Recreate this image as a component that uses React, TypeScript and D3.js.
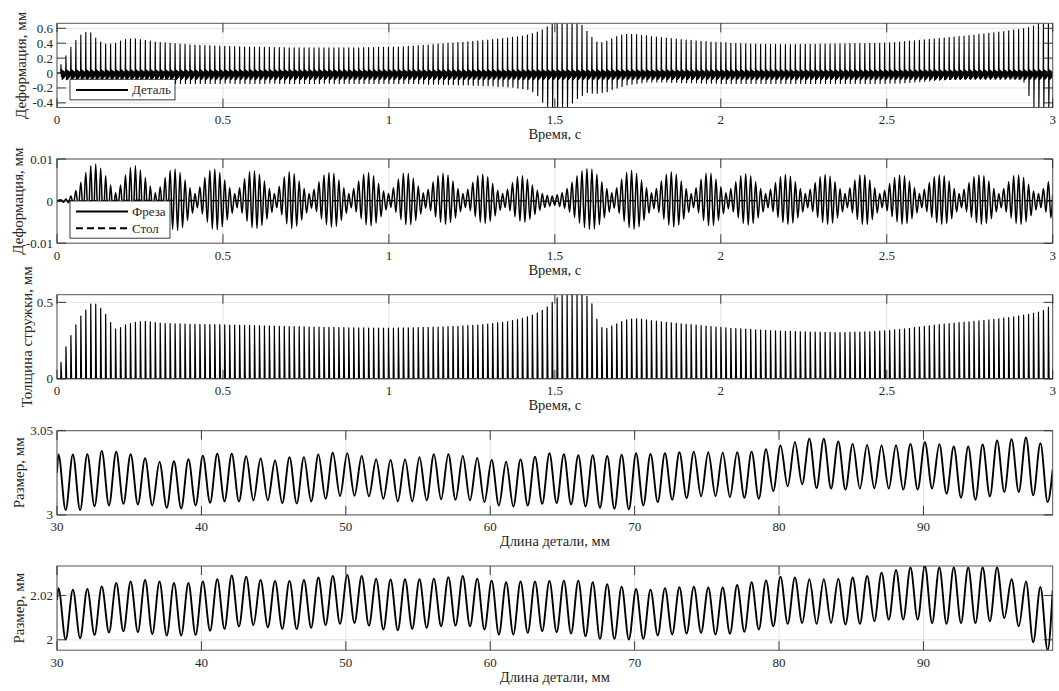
import React from 'react';
import * as d3 from 'd3';

// ---------- data ----------

// Tooth-pass sampling of the time-domain signals
const CYCLE_START = 0.012; // s, first tooth impact
const CYCLE_PERIOD = 0.01495; // s, tooth passing period

// Panel 1: workpiece deformation, per-cycle spike maximum (mm)
const partPeak = [
  0.115, 0.23, 0.35, 0.44, 0.51, 0.545, 0.54, 0.47, 0.415, 0.39,
  0.39, 0.40, 0.43, 0.45, 0.46, 0.46, 0.45, 0.44, 0.43, 0.415,
  0.41, 0.405, 0.40, 0.395, 0.39, 0.385, 0.38, 0.375, 0.372, 0.37,
  0.367, 0.364, 0.361, 0.358, 0.356, 0.354, 0.352, 0.35, 0.348, 0.347,
  0.346, 0.345, 0.344, 0.343, 0.342, 0.341, 0.34, 0.34, 0.339, 0.339,
  0.338, 0.338, 0.338, 0.337, 0.337, 0.337, 0.337, 0.338, 0.338, 0.339,
  0.34, 0.341, 0.342, 0.343, 0.344, 0.345, 0.346, 0.348, 0.35, 0.353,
  0.357, 0.362, 0.367, 0.372, 0.377, 0.383, 0.388, 0.393, 0.398, 0.403,
  0.408, 0.413, 0.418, 0.424, 0.43, 0.436, 0.442, 0.448, 0.455, 0.462,
  0.47, 0.478, 0.487, 0.497, 0.51, 0.53, 0.55, 0.58, 0.62, 0.66,
  0.69, 0.70, 0.70, 0.70, 0.70, 0.64, 0.56, 0.48, 0.42, 0.41,
  0.43, 0.46, 0.49, 0.51, 0.52, 0.52, 0.515, 0.505, 0.50, 0.49,
  0.483, 0.476, 0.47, 0.463, 0.456, 0.45, 0.444, 0.438, 0.432, 0.427,
  0.422, 0.417, 0.412, 0.408, 0.404, 0.40, 0.397, 0.394, 0.392, 0.39,
  0.388, 0.387, 0.386, 0.385, 0.384, 0.383, 0.383, 0.383, 0.383, 0.384,
  0.385, 0.386, 0.387, 0.388, 0.389, 0.39, 0.391, 0.392, 0.393, 0.394,
  0.395, 0.396, 0.397, 0.398, 0.399, 0.40, 0.402, 0.405, 0.41, 0.416,
  0.422, 0.428, 0.434, 0.44, 0.446, 0.452, 0.458, 0.464, 0.47, 0.476,
  0.483, 0.49, 0.497, 0.504, 0.511, 0.518, 0.525, 0.533, 0.541, 0.549,
  0.557, 0.566, 0.575, 0.585, 0.596, 0.61, 0.63, 0.68, 0.72, 0.72,
];

// Panel 1: per-cycle rebound minimum (mm)
const partDip = [
  -0.05, -0.09, -0.12, -0.14, -0.16, -0.17, -0.17, -0.16, -0.15, -0.14,
  -0.14, -0.14, -0.15, -0.15, -0.15, -0.15, -0.15, -0.14, -0.14, -0.14,
  -0.14, -0.14, -0.14, -0.14, -0.14, -0.14, -0.14, -0.14, -0.14, -0.14,
  -0.14, -0.14, -0.14, -0.135, -0.135, -0.14, -0.14, -0.14, -0.14, -0.14,
  -0.14, -0.14, -0.135, -0.135, -0.14, -0.14, -0.14, -0.14, -0.14, -0.14,
  -0.14, -0.14, -0.14, -0.135, -0.135, -0.14, -0.14, -0.14, -0.14, -0.14,
  -0.14, -0.14, -0.14, -0.14, -0.14, -0.14, -0.14, -0.14, -0.14, -0.14,
  -0.14, -0.14, -0.145, -0.145, -0.15, -0.15, -0.15, -0.15, -0.155, -0.155,
  -0.16, -0.16, -0.16, -0.165, -0.165, -0.17, -0.17, -0.175, -0.18, -0.18,
  -0.185, -0.19, -0.2, -0.21, -0.22, -0.25, -0.3, -0.39, -0.45, -0.5,
  -0.52, -0.5, -0.46, -0.4, -0.34, -0.3, -0.26, -0.27, -0.27, -0.26,
  -0.25, -0.22, -0.2, -0.18, -0.16, -0.15, -0.14, -0.13, -0.12, -0.12,
  -0.12, -0.12, -0.12, -0.125, -0.125, -0.13, -0.13, -0.13, -0.13, -0.135,
  -0.135, -0.135, -0.135, -0.14, -0.14, -0.14, -0.14, -0.14, -0.14, -0.14,
  -0.14, -0.14, -0.14, -0.14, -0.14, -0.14, -0.14, -0.14, -0.14, -0.14,
  -0.14, -0.14, -0.14, -0.14, -0.14, -0.14, -0.14, -0.14, -0.14, -0.14,
  -0.14, -0.14, -0.14, -0.14, -0.14, -0.14, -0.14, -0.135, -0.135, -0.135,
  -0.13, -0.125, -0.12, -0.115, -0.11, -0.105, -0.1, -0.095, -0.09, -0.085,
  -0.08, -0.078, -0.075, -0.072, -0.07, -0.068, -0.066, -0.064, -0.062, -0.06,
  -0.06, -0.06, -0.07, -0.08, -0.12, -0.3, -0.46, -0.55, -0.55, -0.55,
];

// Panel 1: free ringing after each impact (time after impact, s / level, mm)
const ringOffsets = [0.0025, 0.004, 0.0055, 0.007, 0.0085, 0.01, 0.0115, 0.013];
const ringLevels = [0.045, -0.085, 0.035, -0.075, 0.025, -0.06, 0.015, -0.04];

// Panel 2: cutter deformation, per-cycle crest and trough magnitude (µm)
const cutterCrest = [
  0.3, 0.5, 1.2, 2.5, 4.5, 6.8, 8.4, 8.8, 7.8, 6.0,
  3.8, 2.0, 3.8, 6.2, 8.0, 8.4, 7.4, 5.6, 3.6, 2.0,
  3.4, 5.6, 7.3, 7.6, 6.8, 5.0, 3.2, 1.8, 3.4, 5.6,
  7.3, 7.6, 6.8, 5.0, 3.2, 1.8, 3.2, 5.3, 7.0, 7.2,
  6.4, 4.8, 3.0, 1.8, 3.5, 5.8, 7.0, 6.5, 4.8, 3.0,
  1.8, 2.8, 4.6, 6.2, 6.8, 6.6, 5.0, 3.2, 1.8, 3.0,
  4.8, 6.4, 6.8, 6.0, 4.2, 2.4, 1.8, 3.2, 5.2, 6.6,
  6.6, 5.4, 3.6, 2.0, 2.8, 4.6, 6.0, 6.6, 6.2, 4.8,
  3.0, 1.8, 2.8, 4.5, 6.0, 6.4, 5.8, 4.2, 2.6, 1.8,
  2.8, 4.4, 5.8, 6.0, 5.2, 3.8, 2.6, 1.8, 1.4, 1.2,
  1.5, 2.0, 3.0, 4.5, 6.0, 7.2, 7.7, 7.6, 6.4, 4.6,
  3.0, 2.0, 3.2, 5.2, 6.8, 7.3, 6.6, 5.0, 3.2, 2.0,
  3.0, 4.8, 6.4, 7.0, 6.4, 4.8, 3.0, 1.8, 3.2, 5.2,
  6.6, 6.6, 5.2, 3.4, 2.0, 3.0, 4.6, 6.0, 6.5, 6.0,
  4.6, 3.0, 1.8, 2.8, 4.4, 5.8, 6.3, 5.9, 4.6, 3.0,
  1.8, 2.8, 4.4, 5.8, 6.3, 5.9, 4.6, 3.0, 1.8, 3.2,
  5.0, 6.2, 6.2, 5.0, 3.2, 1.8, 2.6, 4.2, 5.6, 6.2,
  6.0, 4.8, 3.2, 1.8, 2.8, 4.4, 5.8, 6.2, 6.0, 4.8,
  3.0, 1.8, 2.8, 4.4, 5.8, 6.2, 6.0, 4.8, 3.0, 1.8,
  3.0, 4.6, 6.0, 6.2, 5.6, 4.0, 2.4, 1.8, 3.0, 4.6,
];
const cutterTrough = [
  0.3, 0.4, 0.9, 1.9, 3.5, 5.2, 6.5, 6.8, 6.0, 4.6,
  2.9, 1.6, 3.1, 5.0, 6.5, 6.8, 6.0, 4.5, 2.9, 1.8,
  3.1, 5.2, 6.7, 7.0, 6.3, 4.6, 2.9, 1.6, 3.1, 5.0,
  6.6, 6.8, 6.1, 4.5, 2.9, 1.6, 2.9, 4.8, 6.3, 6.5,
  5.8, 4.3, 2.7, 1.6, 3.3, 5.4, 6.5, 6.0, 4.5, 2.8,
  1.7, 2.5, 4.2, 5.6, 6.2, 6.0, 4.6, 2.9, 1.6, 2.6,
  4.2, 5.6, 5.9, 5.2, 3.7, 2.1, 1.5, 2.7, 4.4, 5.6,
  5.6, 4.6, 3.1, 1.7, 2.3, 3.8, 5.0, 5.5, 5.1, 4.0,
  2.5, 1.5, 2.3, 3.7, 5.0, 5.3, 4.8, 3.5, 2.2, 1.5,
  2.3, 3.7, 4.8, 5.0, 4.3, 3.2, 2.2, 1.5, 1.2, 1.0,
  1.3, 1.7, 2.6, 3.9, 5.2, 6.3, 6.7, 6.6, 5.6, 4.0,
  2.6, 1.7, 2.9, 4.8, 6.3, 6.7, 6.1, 4.6, 2.9, 1.8,
  2.7, 4.3, 5.7, 6.2, 5.7, 4.3, 2.7, 1.6, 2.8, 4.6,
  5.8, 5.8, 4.6, 3.0, 1.8, 2.6, 4.0, 5.3, 5.7, 5.3,
  4.0, 2.6, 1.6, 2.5, 3.9, 5.1, 5.5, 5.2, 4.0, 2.6,
  1.6, 2.5, 3.9, 5.1, 5.5, 5.2, 4.0, 2.6, 1.6, 2.8,
  4.4, 5.5, 5.5, 4.4, 2.8, 1.6, 2.3, 3.7, 4.9, 5.5,
  5.3, 4.2, 2.8, 1.6, 2.5, 3.9, 5.1, 5.5, 5.3, 4.2,
  2.6, 1.6, 2.5, 3.9, 5.1, 5.5, 5.3, 4.2, 2.6, 1.6,
  2.6, 4.0, 5.3, 5.5, 4.9, 3.5, 2.1, 1.6, 2.6, 4.0,
];

// Panel 2: table deformation (mm)
const tableTime = [0, 0.25, 0.5, 0.75, 1, 1.25, 1.5, 1.75, 2, 2.25, 2.5, 2.75, 3];
const tableValue = [0, 0.0002, 0.0001, 0.0001, 0.0001, 0.0001, 0, 0.0001, 0.0001, 0.0001, 0.0001, 0.0001, 0.0001];

// Panel 3: uncut chip thickness per tooth pass (mm)
const chipThickness = [
  0.108, 0.21, 0.283, 0.353, 0.411, 0.45, 0.489, 0.489, 0.461, 0.422,
  0.368, 0.325, 0.335, 0.353, 0.362, 0.37, 0.375, 0.376, 0.372, 0.368,
  0.364, 0.362, 0.361, 0.36, 0.359, 0.358, 0.357, 0.356, 0.356, 0.355,
  0.355, 0.354, 0.354, 0.353, 0.352, 0.351, 0.35, 0.35, 0.349, 0.348,
  0.347, 0.346, 0.345, 0.345, 0.344, 0.343, 0.342, 0.341, 0.341, 0.34,
  0.339, 0.338, 0.338, 0.337, 0.336, 0.336, 0.335, 0.335, 0.334, 0.334,
  0.333, 0.333, 0.332, 0.332, 0.332, 0.332, 0.332, 0.332, 0.333, 0.333,
  0.334, 0.334, 0.335, 0.336, 0.337, 0.338, 0.339, 0.34, 0.341, 0.342,
  0.344, 0.346, 0.348, 0.35, 0.352, 0.355, 0.358, 0.362, 0.366, 0.37,
  0.375, 0.381, 0.388, 0.396, 0.405, 0.416, 0.43, 0.448, 0.47, 0.5,
  0.53, 0.545, 0.55, 0.55, 0.55, 0.548, 0.54, 0.49, 0.39, 0.335,
  0.33, 0.345, 0.36, 0.375, 0.385, 0.39, 0.392, 0.39, 0.385, 0.38,
  0.377, 0.373, 0.369, 0.366, 0.363, 0.36, 0.357, 0.354, 0.351, 0.348,
  0.345, 0.342, 0.339, 0.336, 0.333, 0.331, 0.329, 0.327, 0.325, 0.323,
  0.321, 0.319, 0.317, 0.315, 0.314, 0.312, 0.311, 0.31, 0.309, 0.308,
  0.307, 0.306, 0.305, 0.305, 0.304, 0.304, 0.303, 0.303, 0.303, 0.304,
  0.305, 0.306, 0.307, 0.308, 0.31, 0.312, 0.314, 0.317, 0.32, 0.323,
  0.327, 0.331, 0.335, 0.339, 0.343, 0.347, 0.351, 0.355, 0.358, 0.361,
  0.364, 0.367, 0.37, 0.373, 0.376, 0.379, 0.382, 0.385, 0.389, 0.393,
  0.397, 0.401, 0.406, 0.411, 0.416, 0.422, 0.428, 0.436, 0.448, 0.468,
];

// Panels 4-5: part size along its length, one crest / trough per mm
const LENGTH_FIRST_CREST = 30.1; // mm
const LENGTH_STEP = 1; // mm between crests
const LENGTH_END = 98.95; // mm

const size1Start = 3.025;
const size1End = 3.027;
const size1Crest = [
  3.0359, 3.0359, 3.036, 3.038, 3.0375, 3.036, 3.0337, 3.0315, 3.0319, 3.0331,
  3.0351, 3.0363, 3.0363, 3.0349, 3.0335, 3.0323, 3.0343, 3.0343, 3.0359, 3.0369,
  3.0367, 3.035, 3.033, 3.0326, 3.033, 3.0342, 3.036, 3.036, 3.035, 3.0338,
  3.0326, 3.0316, 3.033, 3.0346, 3.0366, 3.036, 3.0354, 3.0354, 3.035, 3.0358,
  3.0366, 3.0362, 3.0366, 3.0372, 3.0376, 3.0372, 3.037, 3.0372, 3.0376, 3.039,
  3.0412, 3.0432, 3.0452, 3.0452, 3.0436, 3.0422, 3.0416, 3.0412, 3.0414, 3.0422,
  3.0432, 3.042, 3.0406, 3.0406, 3.0418, 3.0442, 3.045, 3.046, 3.0426,
];
const size1Trough = [
  3.0028, 3.0028, 3.0052, 3.0056, 3.0066, 3.0062, 3.0056, 3.0042, 3.0038, 3.0056,
  3.0072, 3.008, 3.008, 3.0086, 3.0086, 3.007, 3.0068, 3.008, 3.0096, 3.0112,
  3.0114, 3.011, 3.0096, 3.008, 3.008, 3.0086, 3.0092, 3.009, 3.0086, 3.0076,
  3.0056, 3.005, 3.0056, 3.0066, 3.007, 3.0062, 3.005, 3.0042, 3.0036, 3.0032,
  3.0056, 3.0076, 3.009, 3.01, 3.011, 3.0112, 3.0106, 3.0102, 3.0096, 3.0142,
  3.017, 3.0182, 3.016, 3.0156, 3.015, 3.0156, 3.0158, 3.0156, 3.015, 3.015,
  3.0156, 3.0126, 3.0102, 3.009, 3.011, 3.0136, 3.0136, 3.0116, 3.0076,
];

const size2Start = 2.018;
const size2End = 2.0224;
const size2Crest = [
  2.0233, 2.0226, 2.0229, 2.0241, 2.0256, 2.0263, 2.027, 2.0263, 2.0256, 2.0256,
  2.0263, 2.0273, 2.029, 2.0285, 2.027, 2.0266, 2.0266, 2.027, 2.0281, 2.0288,
  2.0293, 2.0288, 2.0276, 2.0272, 2.0273, 2.0273, 2.0276, 2.0283, 2.0288, 2.0276,
  2.0267, 2.026, 2.0263, 2.0263, 2.0266, 2.0267, 2.0267, 2.026, 2.0251, 2.024,
  2.0229, 2.0226, 2.0233, 2.0237, 2.024, 2.0236, 2.0236, 2.0247, 2.026, 2.0268,
  2.0285, 2.0281, 2.0273, 2.0273, 2.0275, 2.0281, 2.0288, 2.0303, 2.0315, 2.0326,
  2.0333, 2.0326, 2.0326, 2.0326, 2.0326, 2.0326, 2.0273, 2.0263, 2.0238,
];
const size2Trough = [
  2.0001, 2.0007, 2.0022, 2.0033, 2.0038, 2.0035, 2.0026, 2.0019, 2.0019, 2.0022,
  2.004, 2.0049, 2.006, 2.0066, 2.0056, 2.0049, 2.0048, 2.0054, 2.0066, 2.0072,
  2.0076, 2.0064, 2.0046, 2.0043, 2.0049, 2.0054, 2.0061, 2.0064, 2.0061, 2.0046,
  2.0024, 2.0024, 2.0031, 2.0039, 2.0034, 2.0028, 2.0016, 2.0004, 2.0004, 2.0001,
  2.0004, 2.0019, 2.0024, 2.0028, 2.0031, 2.0024, 2.0027, 2.0036, 2.0046, 2.0061,
  2.0072, 2.0076, 2.0072, 2.0076, 2.0069, 2.0072, 2.0084, 2.0091, 2.0091, 2.0091,
  2.0076, 2.0072, 2.0076, 2.0076, 2.0084, 2.0098, 2.0061, 1.9989, 1.9953,
];

// Axis ticks
const timeTicks = [0, 0.5, 1, 1.5, 2, 2.5, 3];
const timeTickLabels = ['0', '0.5', '1', '1.5', '2', '2.5', '3'];
const lengthTicks = [30, 40, 50, 60, 70, 80, 90];
const lengthTickLabels = ['30', '40', '50', '60', '70', '80', '90'];
const partTicks = [-0.4, -0.2, 0, 0.2, 0.4, 0.6];
const partTickLabels = ['-0.4', '-0.2', '0', '0.2', '0.4', '0.6'];
const cutterTicks = [-0.01, 0, 0.01];
const cutterTickLabels = ['-0.01', '0', '0.01'];
const chipTicks = [0, 0.5];
const chipTickLabels = ['0', '0.5'];
const size1Ticks = [3, 3.05];
const size1TickLabels = ['3', '3.05'];
const size2Ticks = [2, 2.02];
const size2TickLabels = ['2', '2.02'];

// ---------- layout ----------
const W = 1059;
const H = 691;
const PLOT_L = 57;
const PLOT_R = 1052.7;
const PLOT_H = 84.2;
const FONT = "'Liberation Serif', 'Times New Roman', serif";
const INK = '#262626';
const TICK_LEN = 9;

type Pt = [number, number];

const cycleTime = (k: number) => CYCLE_START + k * CYCLE_PERIOD;

function partSeries(): Pt[] {
  const pts: Pt[] = [[0, 0]];
  partPeak.forEach((p, k) => {
    const t = cycleTime(k);
    pts.push([t - 0.001, 0], [t, p], [t + 0.0012, partDip[k]]);
    ringOffsets.forEach((o, i) => pts.push([t + o, ringLevels[i]]));
  });
  pts.push([3, 0]);
  return pts;
}

function cutterSeries(): Pt[] {
  const pts: Pt[] = [[0, 0], [0.005, 0.0002]];
  cutterCrest.forEach((c, k) => {
    const t = cycleTime(k);
    pts.push([t, c / 1000], [t + CYCLE_PERIOD / 2, -cutterTrough[k] / 1000]);
  });
  pts.push([3, 0.0015]);
  return pts;
}

function chipSeries(): Pt[] {
  const pts: Pt[] = [[0, 0]];
  chipThickness.forEach((h, k) => {
    const t = cycleTime(k);
    pts.push([t - 0.0008, 0], [t, h], [t + 0.0022, 0]);
  });
  pts.push([3, 0]);
  return pts;
}

function sizeSeries(start: number, crest: number[], trough: number[], end: number): Pt[] {
  const pts: Pt[] = [[30, start]];
  crest.forEach((c, k) => {
    const x = LENGTH_FIRST_CREST + k * LENGTH_STEP;
    pts.push([x, c], [x + LENGTH_STEP / 2, trough[k]]);
  });
  pts.push([LENGTH_END, end]);
  return pts;
}

interface Trace {
  points: Pt[];
  curve: d3.CurveFactory;
  width: number;
  dash?: string;
}

interface LegendItem {
  label: string;
  dash?: string;
}

interface PanelProps {
  id: string;
  top: number;
  xDomain: [number, number];
  yDomain: [number, number];
  xTicks: number[];
  xTickLabels: string[];
  yTicks: number[];
  yTickLabels: string[];
  xTitle: string;
  yTitle: string;
  yTitleX: number;
  traces: Trace[];
  legend?: { x: number; y: number; w: number; items: LegendItem[] };
}

function Panel(props: PanelProps) {
  const { id, top, xDomain, yDomain, xTicks, xTickLabels, yTicks, yTickLabels, xTitle, yTitle, yTitleX, traces, legend } = props;
  const bottom = top + PLOT_H;
  const x = d3.scaleLinear().domain(xDomain).range([PLOT_L, PLOT_R]);
  const y = d3.scaleLinear().domain(yDomain).range([bottom, top]);
  const clipId = `clip-${id}`;

  return (
    <g>
      <defs>
        <clipPath id={clipId}>
          <rect x={PLOT_L} y={top} width={PLOT_R - PLOT_L} height={PLOT_H} />
        </clipPath>
      </defs>
      <rect x={PLOT_L} y={top} width={PLOT_R - PLOT_L} height={PLOT_H} fill="#fff" />
      {/* grid */}
      {xTicks.map((t) => (
        <line key={`gx${t}`} x1={x(t)} x2={x(t)} y1={top} y2={bottom} stroke="#e2e2e2" strokeWidth={1} />
      ))}
      {yTicks.map((t) => (
        <line key={`gy${t}`} x1={PLOT_L} x2={PLOT_R} y1={y(t)} y2={y(t)} stroke="#e2e2e2" strokeWidth={1} />
      ))}
      {/* data */}
      <g clipPath={`url(#${clipId})`}>
        {traces.map((tr, i) => {
          const line = d3
            .line<Pt>()
            .x((d) => x(d[0]))
            .y((d) => y(d[1]))
            .curve(tr.curve);
          return (
            <path
              key={i}
              d={line(tr.points) || ''}
              fill="none"
              stroke="#000"
              strokeWidth={tr.width}
              strokeDasharray={tr.dash}
              strokeLinejoin="round"
            />
          );
        })}
      </g>
      {/* frame and inward ticks on all four sides */}
      <rect x={PLOT_L} y={top} width={PLOT_R - PLOT_L} height={PLOT_H} fill="none" stroke="#555" strokeWidth={1} />
      {xTicks.map((t) => (
        <g key={`tx${t}`} stroke={INK} strokeWidth={0.9}>
          <line x1={x(t)} x2={x(t)} y1={bottom} y2={bottom - TICK_LEN} />
          <line x1={x(t)} x2={x(t)} y1={top} y2={top + TICK_LEN} />
        </g>
      ))}
      {yTicks.map((t) => (
        <g key={`ty${t}`} stroke={INK} strokeWidth={0.9}>
          <line x1={PLOT_L} x2={PLOT_L + TICK_LEN} y1={y(t)} y2={y(t)} />
          <line x1={PLOT_R} x2={PLOT_R - TICK_LEN} y1={y(t)} y2={y(t)} />
        </g>
      ))}
      {/* tick labels */}
      {xTicks.map((t, i) => (
        <text key={`lx${t}`} x={x(t)} y={bottom + 16.5} textAnchor="middle" fontSize={13} fontFamily={FONT} fill={INK}>
          {xTickLabels[i]}
        </text>
      ))}
      {yTicks.map((t, i) => (
        <text key={`ly${t}`} x={PLOT_L - 4} y={y(t) + 4.5} textAnchor="end" fontSize={13} fontFamily={FONT} fill={INK}>
          {yTickLabels[i]}
        </text>
      ))}
      {/* axis titles */}
      <text x={(PLOT_L + PLOT_R) / 2} y={bottom + 31.5} textAnchor="middle" fontSize={14.5} fontFamily={FONT} fill={INK}>
        {xTitle}
      </text>
      <text
        transform={`translate(${yTitleX},${(top + bottom) / 2}) rotate(-90)`}
        textAnchor="middle"
        dominantBaseline="central"
        fontSize={15}
        fontFamily={FONT}
        fill={INK}
      >
        {yTitle}
      </text>
      {/* legend */}
      {legend && (
        <g>
          <rect
            x={legend.x}
            y={legend.y}
            width={legend.w}
            height={legend.items.length * 16.6 + 4}
            fill="#fff"
            stroke={INK}
            strokeWidth={0.9}
          />
          {legend.items.map((it, i) => {
            const cy = legend.y + 10.6 + i * 16.6;
            return (
              <g key={it.label}>
                <line
                  x1={legend.x + 6}
                  x2={legend.x + 58}
                  y1={cy}
                  y2={cy}
                  stroke="#000"
                  strokeWidth={2}
                  strokeDasharray={it.dash}
                />
                <text x={legend.x + 62} y={cy + 4.5} fontSize={13} fontFamily={FONT} fill={INK}>
                  {it.label}
                </text>
              </g>
            );
          })}
        </g>
      )}
    </g>
  );
}

export default function App() {
  const tops = [23.3, 159, 294.7, 430.7, 566];
  return (
    <svg
      width={W}
      height={H}
      viewBox={`0 0 ${W} ${H}`}
      style={{ position: 'absolute', left: 0, top: 0, background: '#fff' }}
    >
      <rect width={W} height={H} fill="#fff" />
      <Panel
        id="part"
        top={tops[0]}
        xDomain={[0, 3]}
        yDomain={[-0.462, 0.667]}
        xTicks={timeTicks}
        xTickLabels={timeTickLabels}
        yTicks={partTicks}
        yTickLabels={partTickLabels}
        xTitle="Время, с"
        yTitle="Деформация, мм"
        yTitleX={21}
        traces={[{ points: partSeries(), curve: d3.curveLinear, width: 1.1 }]}
        legend={{ x: 70, y: 79.3, w: 105, items: [{ label: 'Деталь' }] }}
      />
      <Panel
        id="cutter"
        top={tops[1]}
        xDomain={[0, 3]}
        yDomain={[-0.01, 0.01]}
        xTicks={timeTicks}
        xTickLabels={timeTickLabels}
        yTicks={cutterTicks}
        yTickLabels={cutterTickLabels}
        xTitle="Время, с"
        yTitle="Деформация, мм"
        yTitleX={17.5}
        traces={[
          { points: cutterSeries(), curve: d3.curveMonotoneX, width: 1.5 },
          {
            points: tableTime.map((t, i) => [t, tableValue[i]] as Pt),
            curve: d3.curveLinear,
            width: 1.3,
            dash: '7 4',
          },
        ]}
        legend={{
          x: 70,
          y: 201,
          w: 100,
          items: [{ label: 'Фреза' }, { label: 'Стол', dash: '7 4' }],
        }}
      />
      <Panel
        id="chip"
        top={tops[2]}
        xDomain={[0, 3]}
        yDomain={[0, 0.55]}
        xTicks={timeTicks}
        xTickLabels={timeTickLabels}
        yTicks={chipTicks}
        yTickLabels={chipTickLabels}
        xTitle="Время, с"
        yTitle="Толщина стружки, мм"
        yTitleX={27}
        traces={[{ points: chipSeries(), curve: d3.curveLinear, width: 1.2 }]}
      />
      <Panel
        id="size1"
        top={tops[3]}
        xDomain={[30, LENGTH_END]}
        yDomain={[3, 3.05]}
        xTicks={lengthTicks}
        xTickLabels={lengthTickLabels}
        yTicks={size1Ticks}
        yTickLabels={size1TickLabels}
        xTitle="Длина детали, мм"
        yTitle="Размер, мм"
        yTitleX={19}
        traces={[
          { points: sizeSeries(size1Start, size1Crest, size1Trough, size1End), curve: d3.curveMonotoneX, width: 1.9 },
        ]}
      />
      <Panel
        id="size2"
        top={tops[4]}
        xDomain={[30, LENGTH_END]}
        yDomain={[1.9953, 2.0333]}
        xTicks={lengthTicks}
        xTickLabels={lengthTickLabels}
        yTicks={size2Ticks}
        yTickLabels={size2TickLabels}
        xTitle="Длина детали, мм"
        yTitle="Размер, мм"
        yTitleX={19}
        traces={[
          { points: sizeSeries(size2Start, size2Crest, size2Trough, size2End), curve: d3.curveMonotoneX, width: 1.9 },
        ]}
      />
    </svg>
  );
}
